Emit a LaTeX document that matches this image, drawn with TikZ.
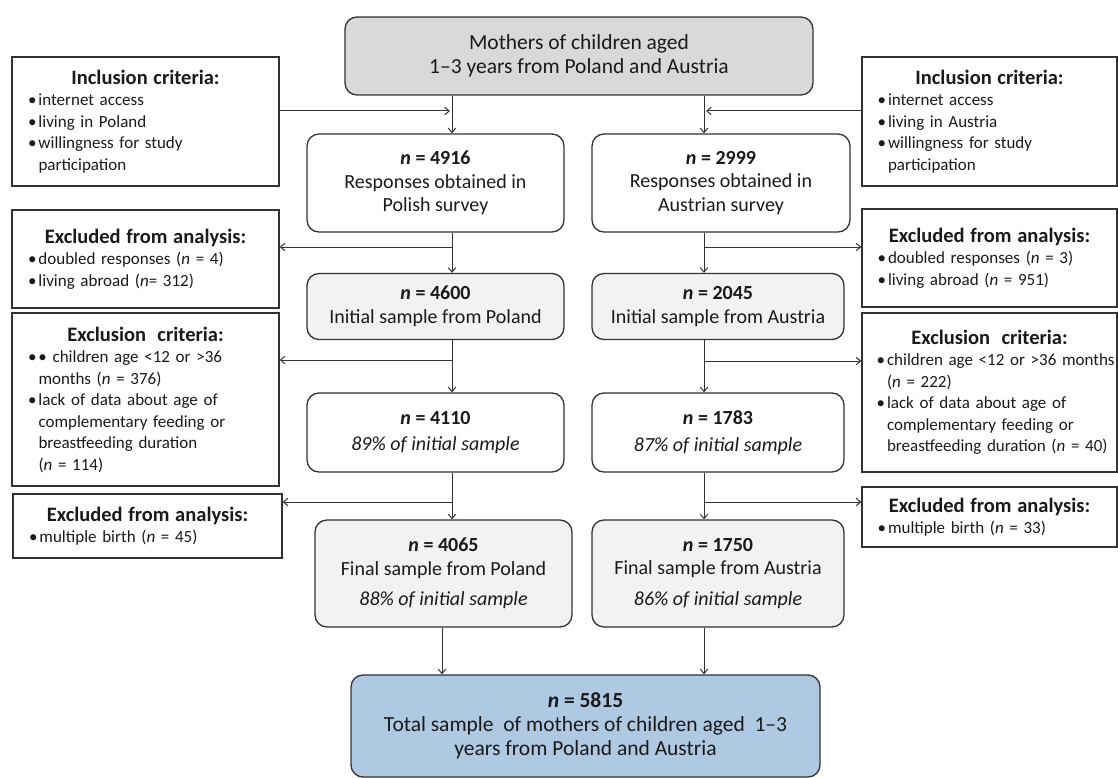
\documentclass[tikz,border=0pt]{standalone}
\usepackage{fontspec}
\setmainfont{Carlito}
\usetikzlibrary{arrows.meta}
\definecolor{topfill}{HTML}{D9D9D9}
\definecolor{midfill}{HTML}{F2F2F2}
\definecolor{totfill}{HTML}{AFC9E3}
\definecolor{ink}{HTML}{1A1A1A}
\definecolor{edge}{HTML}{333333}
\newlength\bind
\setlength\bind{10.5pt}
\newcommand\nn{\textbf{\textit{n}}}
\newcommand\nit{\textit{n}}
\newcommand\hd[1]{{\centering\fontsize{20.5}{22.5}\selectfont\bfseries #1\par}}
\newcommand\bl{\makebox[\bind][l]{•}}
\begin{document}
\begin{tikzpicture}[x=1pt,y=-1pt,
  mbox/.style={draw=edge, line width=1.3pt, rounded corners=12pt, align=center,
    inner sep=0pt, text=ink, font=\fontsize{20}{23.5}\selectfont},
  bigtext/.style={font=\fontsize{21.5}{24}\selectfont},
  side/.style={draw=edge, line width=1.3pt, inner sep=0pt, align=left, text=ink,
    font=\fontsize{17}{21.5}\selectfont},
  arr/.style={-{Straight Barb[length=4.5pt,width=7.5pt]}, line width=1pt, draw=edge}]
\useasboundingbox (0,0) rectangle (1118,778);

% column coordinates
\coordinate (cl) at (452,0);
\coordinate (cr) at (704,0);
\coordinate (cb) at (442,0);

% main boxes
\node[mbox, bigtext, fill=topfill, minimum width=468pt, minimum height=78pt] (top) at (579,56)
  {Mothers of children aged\\1–3 years from Poland and Austria};
\node[mbox, minimum width=257pt, minimum height=98pt] (L1) at (435.5,183)
  {\nn\ \textbf{= 4916}\\Responses obtained in\\Polish survey};
\node[mbox, minimum width=258pt, minimum height=98pt] (R1) at (721,183)
  {\nn\ \textbf{= 2999}\\Responses obtained in\\Austrian survey};
\node[mbox, fill=midfill, minimum width=257pt, minimum height=66pt] (L2) at (435.5,306.5)
  {\nn\ \textbf{= 4600}\\Initial sample from Poland};
\node[mbox, fill=midfill, minimum width=252pt, minimum height=66pt] (R2) at (718,306.5)
  {\nn\ \textbf{= 2045}\\Initial sample from Austria};
\node[mbox, minimum width=257pt, minimum height=79pt] (L3) at (435.5,432.5)
  {\nn\ \textbf{= 4110}\\[3pt]\textit{89\% of initial sample}};
\node[mbox, minimum width=252pt, minimum height=79pt] (R3) at (718,432.5)
  {\nn\ \textbf{= 1783}\\[3pt]\textit{87\% of initial sample}};
\node[mbox, fill=midfill, minimum width=257pt, minimum height=107pt] (L4) at (443.5,573.5)
  {\nn\ \textbf{= 4065}\\Final sample from Poland\\[7pt]\textit{88\% of initial sample}};
\node[mbox, fill=midfill, minimum width=252pt, minimum height=107pt] (R4) at (718,573.5)
  {\nn\ \textbf{= 1750}\\Final sample from Austria\\[7pt]\textit{86\% of initial sample}};
\node[mbox, bigtext, fill=totfill, minimum width=469pt, minimum height=102pt] (tot) at (585.5,726)
  {\nn\ \textbf{= 5815}\\Total sample\ \ of mothers of children aged\ \ 1–3\\years from Poland and Austria};

% left side boxes
\node[side, minimum width=267pt, minimum height=129pt, text width=235pt] (incL) at (145.5,121.5)
  {\hd{Inclusion criteria:}\bl internet access\par\bl living in Poland\par
   \bl willingness for study\\\hspace*{\bind}participation};
\node[side, minimum width=267pt, minimum height=98pt, text width=235pt] (exL) at (145.5,259)
  {\hd{Excluded from analysis:}\bl doubled responses (\nit{} = 4)\par\bl living abroad (\nit= 312)};
\node[side, minimum width=267pt, minimum height=173pt, text width=235pt] (excL) at (145.5,399.5)
  {\hd{Exclusion\ \ criteria:}\bl • children age <12 or >36\\\hspace*{\bind}months (\nit{} = 376)\par
   \bl lack of data about age of\\\hspace*{\bind}complementary feeding or\\\hspace*{\bind}breastfeeding duration\\\hspace*{\bind}(\nit{} = 114)};
\node[side, minimum width=269pt, minimum height=64pt, text width=237pt] (mulL) at (147.5,526)
  {\hd{Excluded from analysis:}\bl multiple birth (\nit{} = 45)};

% right side boxes
\node[side, minimum width=255pt, minimum height=129pt, text width=224pt] (incR) at (989.5,121.5)
  {\hd{Inclusion criteria:}\bl internet access\par\bl living in Austria\par
   \bl willingness for study\\\hspace*{\bind}participation};
\node[side, minimum width=255pt, minimum height=98pt, text width=224pt] (exR) at (989.5,258)
  {\hd{Excluded from analysis:}\bl doubled responses (\nit{} = 3)\par\bl living abroad (\nit{} = 951)};
\node[side, minimum width=255pt, minimum height=159pt, text width=226pt] (excR) at (989.5,392.5)
  {\hd{Exclusion\ \ criteria:}\mbox{\bl children age <12 or >36 months}\\\hspace*{\bind}(\nit{} = 222)\par
   \bl lack of data about age of\\\hspace*{\bind}complementary feeding or\\\hspace*{\bind}\mbox{breastfeeding duration (\nit{} = 40)}};
\node[side, minimum width=255pt, minimum height=60pt, text width=224pt] (mulR) at (989.5,517)
  {\hd{Excluded from analysis:}\bl multiple birth (\nit{} = 33)};

% junction points
\coordinate (jl1) at (452,111);
\coordinate (jr1) at (704,111);
\coordinate (jl2) at (452,247);
\coordinate (jr2) at (704,247);
\coordinate (jl3) at (452,360);
\coordinate (jr3) at (704,361);
\coordinate (jl4) at (452,502);
\coordinate (jr4) at (704,502);

% vertical flow
\draw[arr] (top.south -| cl) -- (L1.north -| cl);
\draw[arr] (top.south -| cr) -- (R1.north -| cr);
\draw[arr] (L1.south -| cl) -- (L2.north -| cl);
\draw[arr] (R1.south -| cr) -- (R2.north -| cr);
\draw[arr] (L2.south -| cl) -- (L3.north -| cl);
\draw[arr] (R2.south -| cr) -- (R3.north -| cr);
\draw[arr] (L3.south -| cl) -- (L4.north -| cl);
\draw[arr] (R3.south -| cr) -- (R4.north -| cr);
\draw[arr] (L4.south -| cb) -- (tot.north -| cb);
\draw[arr] (R4.south -| cr) -- (tot.north -| cr);

% side connections
\draw[arr, shorten >=2pt] (incL.east |- jl1) -- (jl1);
\draw[arr, shorten >=2pt] (incR.west |- jr1) -- (jr1);
\draw[arr] (jl2) -- (exL.east |- jl2);
\draw[arr] (jr2) -- (exR.west |- jr2);
\draw[arr] (jl3) -- (excL.east |- jl3);
\draw[arr] (jr3) -- (excR.west |- jr3);
\draw[arr] (jl4) -- (mulL.east |- jl4);
\draw[arr] (jr4) -- (mulR.west |- jr4);
\end{tikzpicture}
\end{document}
